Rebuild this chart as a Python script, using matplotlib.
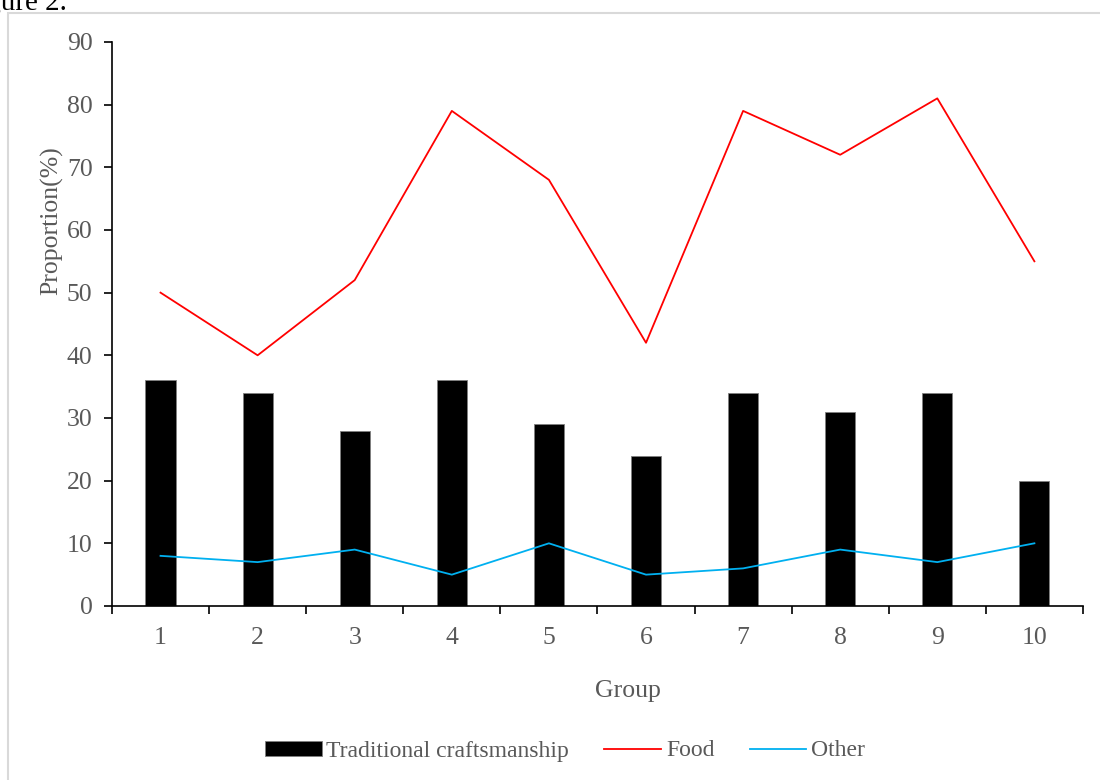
import numpy as np
import matplotlib
matplotlib.use("Agg")
import matplotlib.pyplot as plt
from matplotlib.patches import Rectangle

# ── Data ─────────────────────────────────────────────────────────────────────
groups = ["1", "2", "3", "4", "5", "6", "7", "8", "9", "10"]
craft = [36, 34, 28, 36, 29, 24, 34, 31, 34, 20]
food = [50, 40, 52, 79, 68, 42, 79, 72, 81, 55]
other = [8, 7, 9, 5, 10, 5, 6, 9, 7, 10]

plt.rcParams["font.family"] = ["Liberation Serif", "DejaVu Serif"]
txt = "#595959"
fs_tick = 18.5
fs_lab = 18.5
fs_leg = 17

fig = plt.figure(figsize=(11, 7.8), dpi=100)
ax = fig.add_axes([0.1018, 0.2231, 0.8827, 0.7231])

x = np.arange(1, len(groups) + 1)
bars = ax.bar(x, craft, width=0.31, color="black", edgecolor="#7f7f7f", linewidth=0.6,
              label="Traditional craftsmanship", zorder=2)
l_food, = ax.plot(x, food, color="#ff0000", linewidth=1.3, label="Food", zorder=3)
l_other, = ax.plot(x, other, color="#00b0f0", linewidth=1.3, label="Other", zorder=3)

ax.set_xlim(0.5, len(groups) + 0.5)
ax.set_ylim(0, 90)
ax.set_yticks(np.arange(0, 91, 10))

# tick marks between categories, labels at the centres
ax.set_xticks(np.arange(0.5, len(groups) + 1, 1.0))
ax.set_xticklabels([])
ax.set_xticks(x, minor=True)
ax.set_xticklabels(groups, minor=True)
ax.tick_params(axis="x", which="major", direction="out", length=6, width=1.2, color="black")
ax.tick_params(axis="x", which="minor", length=0, pad=15, labelsize=fs_tick, labelcolor=txt)
ax.tick_params(axis="y", direction="out", length=6, width=1.2, pad=8,
               labelsize=fs_tick, labelcolor=txt, color="black")

for s in ["top", "right"]:
    ax.spines[s].set_visible(False)
for s in ["left", "bottom"]:
    ax.spines[s].set_linewidth(1.2)
    ax.spines[s].set_color("black")

ax.set_ylabel("Proportion(%)", fontsize=fs_lab, color=txt)
ax.yaxis.set_label_coords(-0.05, 0.683)
ax.set_xlabel("Group", fontsize=fs_lab, color=txt)
ax.xaxis.set_label_coords(0.531, -0.131)

fig.legend([bars, l_food, l_other], ["Traditional craftsmanship", "Food", "Other"],
           loc="center", bbox_to_anchor=(565 / 1100, 1 - 751 / 780), ncol=3,
           frameon=False, fontsize=fs_leg, labelcolor=txt, handlelength=2.4,
           handleheight=0.6, handletextpad=0.2, columnspacing=1.5)

# chart-area border and the clipped caption above it
fig.patches.append(Rectangle((8 / 1100, -0.05), 1.2, 1 - 13 / 780 + 0.05,
                             transform=fig.transFigure, fill=False,
                             edgecolor="#d9d9d9", linewidth=1.5))
fig.text(67 / 1100, 1 - 10 / 780, "Figure 2.", ha="right", va="baseline",
         fontsize=21, color="black")

fig.savefig("out.png", dpi=100)
